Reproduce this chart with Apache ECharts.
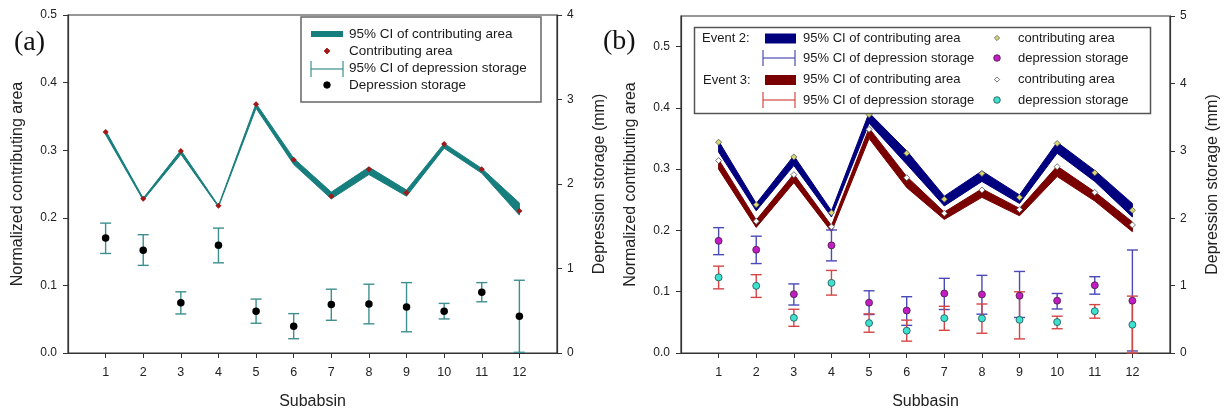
<!DOCTYPE html>
<html>
<head>
<meta charset="utf-8">
<title>Contributing area and depression storage by subbasin</title>
<script src="https://cdn.jsdelivr.net/npm/echarts@6/dist/echarts.min.js"></script>
<style>
  html, body { margin: 0; padding: 0; background: #fff; }
  #chart { width: 1225px; height: 415px; }
</style>
</head>
<body>
<div id="chart"></div>
<script>
// ---- data ----
const subbasins = [1, 2, 3, 4, 5, 6, 7, 8, 9, 10, 11, 12];
const leftTicksA = [0, 0.1, 0.2, 0.3, 0.4, 0.5];
const leftTicksB = [0, 0.1, 0.2, 0.3, 0.4, 0.5];

// (a) normalized contributing area and its 95% CI
const caA = [0.327, 0.228, 0.299, 0.218, 0.368, 0.286, 0.232, 0.272, 0.237, 0.309, 0.272, 0.210];
const caALo = [0.323, 0.226, 0.294, 0.216, 0.362, 0.279, 0.228, 0.264, 0.232, 0.303, 0.266, 0.204];
const caAHi = [0.329, 0.229, 0.300, 0.218, 0.369, 0.288, 0.238, 0.275, 0.241, 0.310, 0.273, 0.222];
// (a) depression storage (mm) and its 95% CI
const dsA = [1.36, 1.216, 0.595, 1.275, 0.493, 0.317, 0.575, 0.579, 0.544, 0.493, 0.72, 0.434];
const dsALo = [1.178, 1.037, 0.462, 1.067, 0.352, 0.169, 0.387, 0.345, 0.251, 0.403, 0.606, 0.008];
const dsAHi = [1.537, 1.40, 0.724, 1.478, 0.638, 0.466, 0.755, 0.814, 0.833, 0.587, 0.833, 0.861];

// (b) Event 2
const caE2 = [0.344, 0.242, 0.320, 0.229, 0.389, 0.326, 0.251, 0.293, 0.254, 0.342, 0.294, 0.233];
const caE2Lo = [0.328, 0.232, 0.306, 0.222, 0.375, 0.308, 0.240, 0.280, 0.244, 0.326, 0.280, 0.222];
const caE2Hi = [0.346, 0.244, 0.322, 0.232, 0.392, 0.330, 0.256, 0.297, 0.258, 0.344, 0.298, 0.244];
const dsE2 = [1.664, 1.532, 0.873, 1.597, 0.747, 0.63, 0.883, 0.869, 0.85, 0.776, 1.005, 0.776];
const dsE2Lo = [1.459, 1.327, 0.712, 1.367, 0.571, 0.41, 0.645, 0.576, 0.527, 0.653, 0.873, 0.03];
const dsE2Hi = [1.86, 1.733, 1.025, 1.825, 0.923, 0.835, 1.108, 1.152, 1.21, 0.883, 1.132, 1.528];

// (b) Event 3
const caE3 = [0.314, 0.215, 0.291, 0.206, 0.365, 0.286, 0.228, 0.266, 0.234, 0.304, 0.262, 0.209];
const caE3Lo = [0.300, 0.205, 0.278, 0.198, 0.350, 0.270, 0.218, 0.254, 0.224, 0.288, 0.248, 0.198];
const caE3Hi = [0.316, 0.217, 0.292, 0.208, 0.367, 0.288, 0.230, 0.268, 0.236, 0.305, 0.263, 0.214];
const dsE3 = [1.122, 0.996, 0.522, 1.04, 0.444, 0.331, 0.517, 0.513, 0.492, 0.459, 0.62, 0.419];
const dsE3Lo = [0.952, 0.825, 0.396, 0.859, 0.308, 0.176, 0.337, 0.293, 0.209, 0.36, 0.517, 0.0];
const dsE3Hi = [1.289, 1.162, 0.649, 1.225, 0.58, 0.488, 0.693, 0.727, 0.908, 0.546, 0.718, 0.844];

// ---- helpers ----
const FONT = "'Liberation Sans', Arial, sans-serif";
const AXIS_COLOR = '#333';

// Filled confidence band drawn as one polygon through the library's coordinate system
function bandSeries(xi, yi, lo, hi, color) {
  return {
    type: 'custom',
    xAxisIndex: xi, yAxisIndex: yi,
    silent: true,
    data: subbasins.map((s, i) => [s, lo[i], hi[i]]),
    encode: { x: 0, y: [1, 2] },
    renderItem: (params, api) => {
      if (params.dataIndex !== 0) return null;
      const top = subbasins.map((s, i) => api.coord([s, hi[i]]));
      const bottom = subbasins.map((s, i) => api.coord([s, lo[i]])).reverse();
      return {
        type: 'polygon',
        shape: { points: top.concat(bottom) },
        style: { fill: color, stroke: color, lineWidth: 1 }
      };
    },
    z: 2
  };
}

// Vertical 95% CI whiskers with caps
function errorSeries(xi, yi, lo, hi, color) {
  return {
    type: 'custom',
    xAxisIndex: xi, yAxisIndex: yi,
    silent: true,
    data: subbasins.map((s, i) => [s, lo[i], hi[i]]),
    encode: { x: 0, y: [1, 2] },
    renderItem: (params, api) => {
      const x = api.value(0);
      const pHi = api.coord([x, api.value(2)]);
      const pLo = api.coord([x, api.value(1)]);
      const w = 5.5;
      const st = { stroke: color, lineWidth: 1.4 };
      return {
        type: 'group',
        children: [
          { type: 'line', shape: { x1: pHi[0], y1: pHi[1], x2: pLo[0], y2: pLo[1] }, style: st },
          { type: 'line', shape: { x1: pHi[0] - w, y1: pHi[1], x2: pHi[0] + w, y2: pHi[1] }, style: st },
          { type: 'line', shape: { x1: pLo[0] - w, y1: pLo[1], x2: pLo[0] + w, y2: pLo[1] }, style: st }
        ]
      };
    },
    z: 3
  };
}

function scatterSeries(xi, yi, vals, symbol, size, fill, border) {
  return {
    type: 'scatter',
    xAxisIndex: xi, yAxisIndex: yi,
    symbol: symbol, symbolSize: size,
    itemStyle: { color: fill, borderColor: border, borderWidth: border ? 0.8 : 0, opacity: 1 },
    data: subbasins.map((s, i) => [s, vals[i]]),
    silent: true,
    z: 4
  };
}

function xAxisDef(gi, name) {
  return {
    type: 'value', gridIndex: gi, min: 0, max: 13,
    name: name, nameLocation: 'middle', nameGap: 41,
    nameTextStyle: { fontFamily: FONT, fontSize: 16, color: '#222' },
    axisLine: { lineStyle: { color: AXIS_COLOR, width: 1.2 } },
    axisTick: { customValues: subbasins, length: 5, lineStyle: { color: AXIS_COLOR } },
    axisLabel: { customValues: subbasins, margin: 13, fontFamily: FONT, fontSize: 12.5, color: '#222' },
    splitLine: { show: false }
  };
}

function yLeftDef(gi, max, ticks) {
  return {
    type: 'value', gridIndex: gi, position: 'left', min: 0, max: max,
    name: 'Normalized contributing area', nameLocation: 'middle', nameRotate: 90, nameGap: 42,
    nameTextStyle: { fontFamily: FONT, fontSize: 16, color: '#222' },
    axisLine: { show: true, lineStyle: { color: AXIS_COLOR, width: 1.2 } },
    axisTick: { show: true, customValues: ticks, length: 5, lineStyle: { color: AXIS_COLOR } },
    axisLabel: { customValues: ticks, margin: 11, fontFamily: FONT, fontSize: 12, color: '#222',
                 formatter: v => v.toFixed(1) },
    splitLine: { show: false }
  };
}

function yRightDef(gi, max) {
  return {
    type: 'value', gridIndex: gi, position: 'right', min: 0, max: max, interval: 1,
    name: 'Depression storage (mm)', nameLocation: 'middle', nameRotate: 90, nameGap: 35,
    nameTextStyle: { fontFamily: FONT, fontSize: 16, color: '#222' },
    axisLine: { show: true, lineStyle: { color: AXIS_COLOR, width: 1.2 } },
    axisTick: { show: true, length: 5, lineStyle: { color: AXIS_COLOR } },
    axisLabel: { margin: 10, fontFamily: FONT, fontSize: 12, color: '#222' },
    splitLine: { show: false }
  };
}

// ---- legends (drawn as graphic elements) ----
const txt = (x, y, s, size) => ({
  type: 'text', x: x, y: y,
  style: { text: s, fontFamily: FONT, fontSize: size || 13, fill: '#1a1a1a', verticalAlign: 'middle' },
  z: 10
});
const ln = (x1, y1, x2, y2, color, w) => ({
  type: 'line', shape: { x1, y1, x2, y2 }, style: { stroke: color, lineWidth: w }, z: 10
});
const errIcon = (x1, x2, y, color) => [
  ln(x1, y, x2, y, color, 1.2),
  ln(x1, y - 8, x1, y + 8, color, 1.2),
  ln(x2, y - 8, x2, y + 8, color, 1.2)
];
const diamond = (cx, cy, r, fill, stroke) => ({
  type: 'polygon', shape: { points: [[cx, cy - r], [cx + r, cy], [cx, cy + r], [cx - r, cy]] },
  style: { fill: fill, stroke: stroke || fill, lineWidth: 0.8 }, z: 10
});
const dot = (cx, cy, r, fill, stroke) => ({
  type: 'circle', shape: { cx, cy, r }, style: { fill: fill, stroke: stroke || fill, lineWidth: 0.8 }, z: 10
});

const legendA = [
  { type: 'rect', shape: { x: 301, y: 17, width: 240, height: 85 },
    style: { fill: '#fff', stroke: '#666', lineWidth: 1.5 }, z: 9 },
  ln(311, 34, 343, 34, '#177e7e', 6),
  txt(349, 34, '95% CI of contributing area', 13.5),
  diamond(327, 51, 3, '#a31818'),
  txt(349, 51, 'Contributing area', 13.5),
  ...errIcon(311, 343, 69, '#3d8f8f'),
  txt(349, 68, '95% CI of depression storage', 13.5),
  dot(327, 85, 3.3, '#000'),
  txt(349, 85, 'Depression storage', 13.5)
];

const legendB = [
  { type: 'rect', shape: { x: 694.5, y: 27.5, width: 456, height: 86 },
    style: { fill: '#fff', stroke: '#555', lineWidth: 1.5 }, z: 9 },
  txt(702, 38, 'Event 2:'),
  { type: 'rect', shape: { x: 765, y: 33.5, width: 31, height: 10 }, style: { fill: '#00007f' }, z: 10 },
  txt(803, 38, '95% CI of contributing area'),
  diamond(997, 38, 2.6, '#d9d96a', '#556'),
  txt(1018, 38, 'contributing area'),
  ...errIcon(763, 795, 58, '#4a4ab8'),
  txt(803, 58, '95% CI of depression storage'),
  dot(997, 58, 3.3, '#c21cc2', '#402040'),
  txt(1018, 58, 'depression storage'),
  txt(703, 80, 'Event 3:'),
  { type: 'rect', shape: { x: 765, y: 75, width: 31, height: 10 }, style: { fill: '#7a0000' }, z: 10 },
  txt(803, 79.5, '95% CI of contributing area'),
  diamond(997, 79.5, 2.6, '#ffffff', '#555'),
  txt(1018, 79.5, 'contributing area'),
  ...errIcon(763, 795, 100, '#d64545'),
  txt(803, 100, '95% CI of depression storage'),
  dot(997, 100, 3.3, '#3ee0d0', '#205050'),
  txt(1018, 100, 'depression storage')
];

const panelTags = [
  { type: 'text', x: 14, y: 43,
    style: { text: '(a)', fontFamily: "'Liberation Serif', 'Times New Roman', serif", fontSize: 28, fill: '#111', verticalAlign: 'middle' }, z: 10 },
  { type: 'text', x: 603, y: 42,
    style: { text: '(b)', fontFamily: "'Liberation Serif', 'Times New Roman', serif", fontSize: 28, fill: '#111', verticalAlign: 'middle' }, z: 10 }
];

const chart = echarts.init(document.getElementById('chart'), null, { renderer: 'canvas' });
chart.setOption({
  animation: false,
  backgroundColor: '#fff',
  grid: [
    { left: 68, top: 15, width: 489, height: 341, show: true, borderColor: AXIS_COLOR, borderWidth: 1.2, backgroundColor: 'transparent' },
    { left: 681, top: 16, width: 489, height: 341, show: true, borderColor: AXIS_COLOR, borderWidth: 1.2, backgroundColor: 'transparent' }
  ],
  xAxis: [xAxisDef(0, 'Subabsin'), xAxisDef(1, 'Subbasin')],
  yAxis: [
    yLeftDef(0, 0.5, leftTicksA),
    yRightDef(0, 4),
    yLeftDef(1, 0.55, leftTicksB),
    yRightDef(1, 5)
  ],
  series: [
    // (a)
    bandSeries(0, 0, caALo, caAHi, '#177e7e'),
    errorSeries(0, 1, dsALo, dsAHi, '#3d8f8f'),
    scatterSeries(0, 1, dsA, 'circle', 7.5, '#000', null),
    scatterSeries(0, 0, caA, 'diamond', 6, '#a31818', null),
    // (b)
    bandSeries(1, 2, caE2Lo, caE2Hi, '#00007f'),
    bandSeries(1, 2, caE3Lo, caE3Hi, '#7a0000'),
    errorSeries(1, 3, dsE2Lo, dsE2Hi, '#4a4ab8'),
    errorSeries(1, 3, dsE3Lo, dsE3Hi, '#d64545'),
    scatterSeries(1, 3, dsE2, 'circle', 7, '#c21cc2', '#402040'),
    scatterSeries(1, 3, dsE3, 'circle', 7, '#3ee0d0', '#205050'),
    scatterSeries(1, 2, caE2, 'diamond', 6, '#d9d96a', '#556'),
    scatterSeries(1, 2, caE3, 'diamond', 6, '#ffffff', '#555')
  ],
  graphic: [...legendA, ...legendB, ...panelTags]
});
</script>
</body>
</html>
